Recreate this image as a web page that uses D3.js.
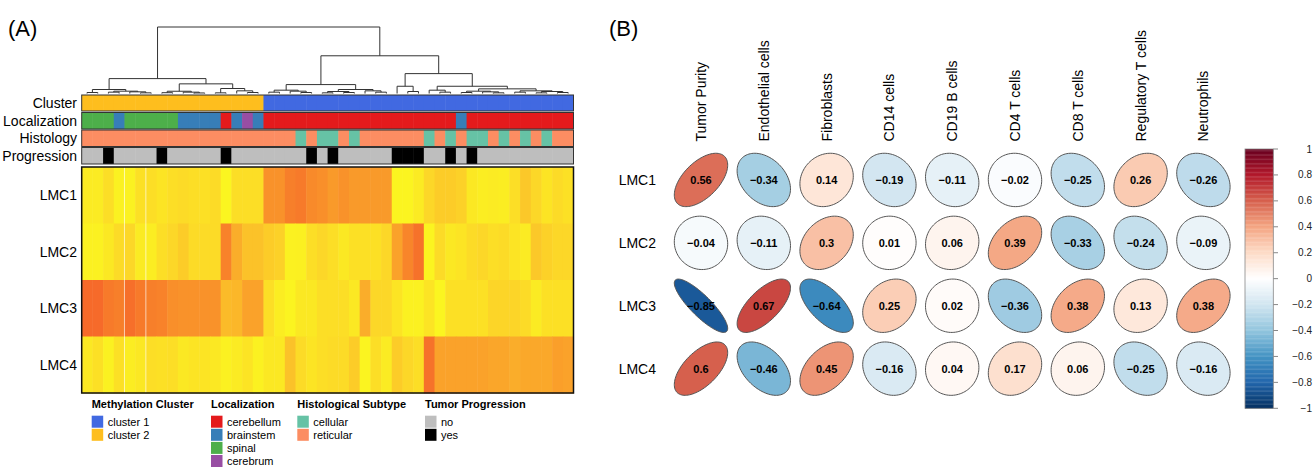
<!DOCTYPE html>
<html>
<head>
<meta charset="utf-8">
<script src="https://cdn.jsdelivr.net/npm/d3@7"></script>
<style>
  body { margin: 0; background: #fff; }
  text { font-family: "Liberation Sans", Arial, sans-serif; }
</style>
</head>
<body>
<svg id="chart" width="1314" height="467"></svg>
<script>
// ---------------- panel A data ----------------
const lmcRows = ['LMC1', 'LMC2', 'LMC3', 'LMC4'];

// heatmap values per column (0 = yellow, 1 = red-orange), 46 samples in dendrogram order
const lmc1Vals = [0.1,0.1,0.2,0.05,0.05,0.18,0.2,0.15,0.2,0.22,0.2,0.18,0.22,0.02,0.2,0.2,0.2,0.6,0.6,0.72,0.75,0.65,0.62,0.55,0.6,0.55,0.55,0.55,0.55,0.03,0.03,0.1,0.25,0.3,0.3,0.28,0.12,0.08,0.1,0.08,0.2,0.32,0.25,0.15,0.22,0.18];
const lmc2Vals = [0.05,0.05,0.12,0.22,0.25,0.1,0.08,0.2,0.25,0.3,0.22,0.22,0.22,0.7,0.45,0.35,0.35,0.3,0.28,0.05,0.06,0.2,0.25,0.2,0.12,0.18,0.18,0.18,0.25,0.5,0.68,0.8,0.03,0.22,0.12,0.15,0.22,0.25,0.2,0.22,0.15,0.1,0.32,0.28,0.25,0.25];
const lmc3Vals = [0.85,0.85,0.75,0.72,0.82,0.75,0.72,0.7,0.62,0.6,0.6,0.6,0.6,0.38,0.4,0.5,0.5,0.2,0.08,0.03,0.12,0.12,0.2,0.2,0.2,0.12,0.45,0.25,0.25,0.15,0.05,0.05,0.15,0.02,0.18,0.18,0.18,0.18,0.26,0.26,0.26,0.22,0.1,0.18,0.18,0.18];
const lmc4Vals = [0.12,0.18,0.05,0.18,0.08,0.12,0.2,0.18,0.2,0.12,0.15,0.15,0.12,0.05,0.1,0.15,0.05,0.12,0.12,0.35,0.22,0.15,0.2,0.22,0.22,0.3,0.03,0.2,0.1,0.3,0.25,0.2,0.8,0.5,0.5,0.5,0.5,0.5,0.48,0.48,0.45,0.47,0.47,0.47,0.52,0.5];
const heatVals = [lmc1Vals, lmc2Vals, lmc3Vals, lmc4Vals];

// column annotations
const clusterAnn = ['cluster 2','cluster 2','cluster 2','cluster 2','cluster 2','cluster 2','cluster 2','cluster 2','cluster 2','cluster 2','cluster 2','cluster 2','cluster 2','cluster 2','cluster 2','cluster 2','cluster 2',
  'cluster 1','cluster 1','cluster 1','cluster 1','cluster 1','cluster 1','cluster 1','cluster 1','cluster 1','cluster 1','cluster 1','cluster 1','cluster 1','cluster 1','cluster 1','cluster 1','cluster 1','cluster 1','cluster 1','cluster 1','cluster 1','cluster 1','cluster 1','cluster 1','cluster 1','cluster 1','cluster 1','cluster 1','cluster 1'];
const locAnn = ['spinal','spinal','spinal','brainstem','spinal','spinal','spinal','spinal','spinal','brainstem','brainstem','brainstem','brainstem','cerebellum','brainstem','cerebrum','brainstem',
  'cerebellum','cerebellum','cerebellum','cerebellum','cerebellum','cerebellum','cerebellum','cerebellum','cerebellum','cerebellum','cerebellum','cerebellum','cerebellum','cerebellum','cerebellum','cerebellum','cerebellum','cerebellum','brainstem','cerebellum','cerebellum','cerebellum','cerebellum','cerebellum','cerebellum','cerebellum','cerebellum','cerebellum','cerebellum'];
const histAnn = ['reticular','reticular','reticular','reticular','reticular','reticular','reticular','reticular','reticular','reticular','reticular','reticular','reticular','reticular','reticular','reticular','reticular','reticular','reticular','reticular',
  'cellular','reticular','cellular','cellular','reticular','cellular','reticular','reticular','reticular','reticular','reticular','reticular','cellular','reticular','cellular','reticular','cellular','cellular','reticular','cellular','reticular','cellular','reticular','cellular','reticular','reticular'];
const progAnn = ['no','no','yes','no','no','no','no','yes','no','no','no','no','no','yes','no','no','no','no','no','no','no','yes','no','yes','no','no','no','no','no','yes','yes','yes','no','no','yes','no','yes','no','no','no','no','no','no','no','no','no'];

// legend keys / colours
const clusterKeys = ['cluster 1', 'cluster 2'];
const clusterCols = ['#4169E1', '#FEBE1E'];
const locKeys = ['cerebellum', 'brainstem', 'spinal', 'cerebrum'];
const locCols = ['#E41A1C', '#377EB8', '#4DAF4A', '#984EA3'];
const histKeys = ['cellular', 'reticular'];
const histCols = ['#66C2A5', '#FC8D62'];
const progKeys = ['no', 'yes'];
const progCols = ['#BEBEBE', '#000000'];

// dendrogram: [height, left, right], leaves are column indexes
const dendro = [10,
  [2.24,
    [0.6, [0.15, 0, 1], [0.35, [0.2, 2, 3], [0.25, 4, [0.1, 5, 6]]]],
    [1.45,
      [0.34, [0.12, 7, 8], [0.2, 9, [0.08, 10, 11]]],
      [0.75, [0.1, 12, 13], [0.4, 14, [0.15, 15, 16]]]]],
  [5.67,
    [1.34,
      [0.5, [0.2, 17, 18], [0.35, 19, [0.15, 20, 21]]],
      [0.6, [0.3, [0.1, 22, 23], [0.15, 24, 25]], [0.4, 26, [0.2, 27, 28]]]],
    [2.99,
      [1.09, 29, [0.3, 30, 31]],
      [1.09,
        [0.5, 32, [0.2, 33, 34]],
        [0.7,
          [0.35, [0.15, 35, 36], [0.25, 37, [0.1, 38, 39]]],
          [0.4, [0.2, 40, 41], [0.3, [0.1, 42, 43], [0.15, 44, 45]]]]]]]];

// ---------------- panel B data ----------------
const cellTypes = ['Tumor Purity', 'Endothelial cells', 'Fibroblasts', 'CD14 cells', 'CD19 B cells',
  'CD4 T cells', 'CD8 T cells', 'Regulatory T cells', 'Neutrophils'];
const corrLMC1 = [0.56, -0.34, 0.14, -0.19, -0.11, -0.02, -0.25, 0.26, -0.26];
const corrLMC2 = [-0.04, -0.11, 0.3, 0.01, 0.06, 0.39, -0.33, -0.24, -0.09];
const corrLMC3 = [-0.85, 0.67, -0.64, 0.25, 0.02, -0.36, 0.38, 0.13, 0.38];
const corrLMC4 = [0.6, -0.46, 0.45, -0.16, 0.04, 0.17, 0.06, -0.25, -0.16];
const corrRows = [corrLMC1, corrLMC2, corrLMC3, corrLMC4];
const barTicks = [1, 0.8, 0.6, 0.4, 0.2, 0, -0.2, -0.4, -0.6, -0.8, -1];

// ---------------- drawing ----------------
const svg = d3.select('#chart');
const nCols = lmc1Vals.length;

svg.append('text').attr('x', 8).attr('y', 36).style('font-size', '22px').text('(A)');
svg.append('text').attr('x', 609).attr('y', 36).style('font-size', '22px').text('(B)');

const xHeat = d3.scaleBand().domain(d3.range(nCols)).range([81.7, 573.5]);
const yHeat = d3.scaleBand().domain(lmcRows).range([167, 393]);
const heatColor = d3.scaleLinear()
  .domain([0, 0.25, 0.5, 0.75, 1])
  .range(['#fbf81f', '#fcd728', '#faa22a', '#f77a2a', '#f4532b']);

// dendrogram
const yDendro = d3.scaleLinear().domain([0, 10]).range([93.5, 27]);
const dendroPath = d3.path();
function layoutNode(node) {
  if (typeof node === 'number') {
    return { x: xHeat(node) + xHeat.bandwidth() / 2, y: yDendro(0) };
  }
  const l = layoutNode(node[1]);
  const r = layoutNode(node[2]);
  const y = yDendro(node[0]);
  dendroPath.moveTo(l.x, l.y); dendroPath.lineTo(l.x, y);
  dendroPath.lineTo(r.x, y); dendroPath.lineTo(r.x, r.y);
  return { x: (l.x + r.x) / 2, y: y };
}
layoutNode(dendro);
svg.append('path').attr('d', dendroPath.toString())
  .attr('fill', 'none').attr('stroke', '#333').attr('stroke-width', 1);

// annotation bars
const annRows = [
  { label: 'Cluster', vals: clusterAnn, keys: clusterKeys, cols: clusterCols, y0: 95, y1: 111 },
  { label: 'Localization', vals: locAnn, keys: locKeys, cols: locCols, y0: 112.5, y1: 129 },
  { label: 'Histology', vals: histAnn, keys: histKeys, cols: histCols, y0: 130, y1: 146.5 },
  { label: 'Progression', vals: progAnn, keys: progKeys, cols: progCols, y0: 147.5, y1: 164 }
];
annRows.forEach(row => {
  const color = d3.scaleOrdinal().domain(row.keys).range(row.cols);
  const g = svg.append('g');
  g.selectAll('rect')
    .data(row.vals)
    .join('rect')
    .attr('x', (d, i) => xHeat(i))
    .attr('y', row.y0)
    .attr('width', xHeat.bandwidth() + 0.5)
    .attr('height', row.y1 - row.y0)
    .attr('fill', d => color(d));
  g.append('rect')
    .attr('x', xHeat.range()[0]).attr('y', row.y0)
    .attr('width', xHeat.range()[1] - xHeat.range()[0]).attr('height', row.y1 - row.y0)
    .attr('fill', 'none').attr('stroke', '#333').attr('stroke-width', 1);
  svg.append('text')
    .attr('x', 77).attr('y', (row.y0 + row.y1) / 2 + 5)
    .attr('text-anchor', 'end').style('font-size', '14px')
    .text(row.label);
});

// heatmap cells
lmcRows.forEach((r, ri) => {
  svg.append('g').selectAll('rect')
    .data(heatVals[ri])
    .join('rect')
    .attr('x', (d, i) => xHeat(i))
    .attr('y', yHeat(r))
    .attr('width', xHeat.bandwidth() + 0.5)
    .attr('height', yHeat.bandwidth() + 0.5)
    .attr('fill', d => heatColor(d));
  svg.append('text')
    .attr('x', 77).attr('y', yHeat(r) + yHeat.bandwidth() / 2 + 5)
    .attr('text-anchor', 'end').style('font-size', '14px')
    .text(r);
});
// thin white seams visible in the original
[4, 6].forEach(c => {
  svg.append('line')
    .attr('x1', xHeat(c)).attr('x2', xHeat(c))
    .attr('y1', 167).attr('y2', 393)
    .attr('stroke', '#fff').attr('stroke-opacity', 0.8).attr('stroke-width', 0.8);
});
svg.append('rect')
  .attr('x', xHeat.range()[0]).attr('y', 167)
  .attr('width', xHeat.range()[1] - xHeat.range()[0]).attr('height', 226)
  .attr('fill', 'none').attr('stroke', '#111').attr('stroke-width', 1.5);

// legends
const legends = [
  { title: 'Methylation Cluster', keys: clusterKeys, cols: clusterCols, x: 91.7 },
  { title: 'Localization', keys: locKeys, cols: locCols, x: 211 },
  { title: 'Histological Subtype', keys: histKeys, cols: histCols, x: 297.3 },
  { title: 'Tumor Progression', keys: progKeys, cols: progCols, x: 425 }
];
legends.forEach(lg => {
  const g = svg.append('g').attr('transform', `translate(${lg.x},0)`);
  g.append('text').attr('x', 0).attr('y', 407.5)
    .style('font-size', '11px').style('font-weight', 'bold').text(lg.title);
  g.selectAll('rect').data(lg.keys).join('rect')
    .attr('x', 0).attr('y', (d, i) => 415.7 + i * 13.1)
    .attr('width', 11.5).attr('height', 12)
    .attr('fill', (d, i) => lg.cols[i]);
  g.selectAll('text.k').data(lg.keys).join('text')
    .attr('class', 'k')
    .attr('x', 16).attr('y', (d, i) => 425.7 + i * 13.1)
    .style('font-size', '11px').text(d => d);
});

// ---------------- panel B ----------------
const xCor = d3.scaleBand().domain(cellTypes).range([669.6, 1234.8]);
const yCor = d3.scaleBand().domain(lmcRows).range([148.5, 400.1]);
const rdbu = ['#053061', '#2166AC', '#4393C3', '#92C5DE', '#D1E5F0', '#FFFFFF',
  '#FDDBC7', '#F4A582', '#D6604D', '#B2182B', '#67001F'];
const corColor = d3.scaleLinear().domain(d3.range(11).map(i => -1 + i * 0.2)).range(rdbu);
const cell = xCor.step();

function ellipsePath(rho, cx, cy) {
  const a = Math.acos(rho);
  const pts = d3.range(0, 100).map(i => {
    const t = i / 99 * 2 * Math.PI;
    return [cx + 0.85 * cell * Math.cos(t + a / 2) / 2, cy - 0.85 * cell * Math.cos(t - a / 2) / 2];
  });
  return d3.line()(pts) + 'Z';
}
const fmt = v => (v < 0 ? '\u2212' : '') + String(Math.abs(v));

cellTypes.forEach(ct => {
  const cx = xCor(ct) + cell / 2;
  svg.append('text')
    .attr('transform', `translate(${cx + 5},141.5) rotate(-90)`)
    .style('font-size', '14px').text(ct);
});
lmcRows.forEach((r, ri) => {
  const cy = yCor(r) + yCor.bandwidth() / 2;
  svg.append('text').attr('x', 656).attr('y', cy + 5)
    .attr('text-anchor', 'end').style('font-size', '14px').text(r);
  const g = svg.append('g');
  g.selectAll('path')
    .data(corrRows[ri])
    .join('path')
    .attr('d', (d, i) => ellipsePath(d, xCor(cellTypes[i]) + cell / 2, cy))
    .attr('fill', d => corColor(d))
    .attr('stroke', '#555').attr('stroke-width', 1);
  g.selectAll('text')
    .data(corrRows[ri])
    .join('text')
    .attr('x', (d, i) => xCor(cellTypes[i]) + cell / 2)
    .attr('y', cy + 4)
    .attr('text-anchor', 'middle')
    .style('font-size', '11px').style('font-weight', 'bold')
    .text(d => fmt(d));
});

// colour bar
const yBar = d3.scaleLinear().domain([1, -1]).range([149, 408.3]);
const barSteps = d3.range(200).map(i => 1 - (i + 0.5) * 0.01);
svg.append('g').selectAll('rect')
  .data(barSteps)
  .join('rect')
  .attr('x', 1245).attr('width', 28.3)
  .attr('y', d => yBar(d + 0.005))
  .attr('height', yBar(0) - yBar(0.01) + 0.3)
  .attr('fill', d => corColor(d));
svg.append('rect').attr('x', 1245).attr('y', 149).attr('width', 28.3).attr('height', 259.3)
  .attr('fill', 'none').attr('stroke', '#888').attr('stroke-width', 0.8);
svg.append('g').selectAll('line')
  .data(barTicks).join('line')
  .attr('x1', 1273.3).attr('x2', 1278)
  .attr('y1', d => yBar(d)).attr('y2', d => yBar(d))
  .attr('stroke', '#888');
svg.append('g').selectAll('text')
  .data(barTicks).join('text')
  .attr('x', 1312).attr('y', d => yBar(d) + 3.5)
  .attr('text-anchor', 'end')
  .style('font-size', '10px').style('fill', '#222')
  .text(d => fmt(d));
</script>
</body>
</html>
